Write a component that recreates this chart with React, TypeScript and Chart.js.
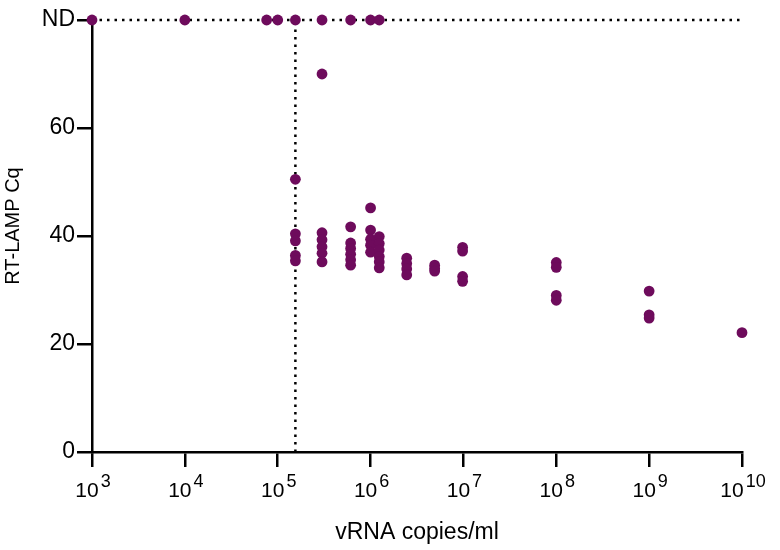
import React, { useEffect, useRef } from "react";
import { Chart, registerables } from "chart.js";

Chart.register(...registerables);

// ---- data ----
const ND_CQ = 80; // "ND" (not detected) plotted at the top of the axis
const ndCopies = [1e3, 1e4, 7.6e4, 1e5, 1.55e5, 3e5, 6.1e5, 1e6, 1.24e6];

const detectedCopies = [1.55e5, 3e5, 6.1e5, 1e6, 1.24e6, 2.45e6, 4.9e6, 9.8e6, 1e8, 1e9, 1e10];
const cqAt155e3 = [50.5, 40.4, 39.1, 36.4, 35.4];
const cqAt3e5 = [70, 40.6, 39.3, 38.0, 36.8, 35.2];
const cqAt61e4 = [41.7, 38.7, 37.7, 36.6, 35.6, 34.6];
const cqAt1e6 = [45.2, 41.1, 39.4, 38.3, 37.0];
const cqAt124e4 = [39.9, 38.6, 37.4, 36.2, 35.2, 34.1];
const cqAt245e4 = [35.9, 34.9, 33.9, 32.8];
const cqAt49e5 = [34.6, 34.0, 33.5];
const cqAt98e5 = [37.9, 37.2, 32.5, 31.6];
const cqAt1e8 = [35.1, 34.2, 29.0, 28.1];
const cqAt1e9 = [29.8, 25.4, 24.8];
const cqAt1e10 = [22.1];
const cqGroups = [cqAt155e3, cqAt3e5, cqAt61e4, cqAt1e6, cqAt124e4, cqAt245e4, cqAt49e5, cqAt98e5, cqAt1e8, cqAt1e9, cqAt1e10];

const lodCopies = 1.55e5; // vertical dotted detection-limit line
const xExponents = [3, 4, 5, 6, 7, 8, 9, 10];
const yTickValues = [0, 20, 40, 60, 80];
const yTickLabels = ["0", "20", "40", "60", "ND"];

const X_TITLE = "vRNA copies/ml";
const Y_TITLE = "RT-LAMP Cq";

const FONT = '"Liberation Sans", Arial, Helvetica, sans-serif';
const POINT_COLOR = "#6e0b5c";

export default function App() {
  const canvasRef = useRef<HTMLCanvasElement | null>(null);

  useEffect(() => {
    document.body.style.margin = "0";
    const canvas = canvasRef.current;
    if (!canvas) return;

    const points: { x: number; y: number }[] = [];
    ndCopies.forEach((c) => points.push({ x: c, y: ND_CQ }));
    detectedCopies.forEach((c, i) => cqGroups[i].forEach((v) => points.push({ x: c, y: v })));

    const labelsPlugin = {
      id: "customLabels",
      afterDraw(chart: any) {
        const ctx = chart.ctx;
        const xs = chart.scales.x;
        const ys = chart.scales.y;
        ctx.save();
        ctx.fillStyle = "#000";
        ctx.textBaseline = "alphabetic";
        ctx.textAlign = "left";
        // x tick labels as 10 with superscript exponent
        for (const e of xExponents) {
          const px = xs.getPixelForValue(Math.pow(10, e));
          ctx.font = `21px ${FONT}`;
          const w1 = ctx.measureText("10").width;
          ctx.font = `18px ${FONT}`;
          const w2 = ctx.measureText(String(e)).width;
          const gap = 2;
          const total = w1 + gap + w2;
          const start = px - total / 2 + 1;
          ctx.font = `21px ${FONT}`;
          ctx.fillText("10", start, 497);
          ctx.font = `18px ${FONT}`;
          ctx.fillText(String(e), start + w1 + gap, 487);
        }
        // y axis title
        const cy = (ys.top + ys.bottom) / 2 - 10;
        ctx.translate(19, cy);
        ctx.rotate(-Math.PI / 2);
        ctx.textAlign = "center";
        ctx.font = `20px ${FONT}`;
        ctx.fillText(Y_TITLE, 0, 0);
        ctx.restore();
      },
    };

    const chart = new Chart(canvas, {
      type: "scatter",
      data: {
        datasets: [
          {
            label: "samples",
            data: points,
            pointRadius: 5.4,
            pointHoverRadius: 5.4,
            pointBackgroundColor: POINT_COLOR,
            pointBorderColor: POINT_COLOR,
            pointBorderWidth: 0,
            showLine: false,
            clip: false as any,
            order: 0,
          },
          {
            label: "ND line",
            data: [
              { x: Math.pow(10, xExponents[0]), y: ND_CQ },
              { x: Math.pow(10, xExponents[xExponents.length - 1]), y: ND_CQ },
            ],
            showLine: true,
            pointRadius: 0,
            borderColor: "#000",
            borderWidth: 2.5,
            borderDash: [2.5, 5],
            clip: false as any,
            order: 1,
          },
          {
            label: "LoD line",
            data: [
              { x: lodCopies, y: 0 },
              { x: lodCopies, y: ND_CQ },
            ],
            showLine: true,
            pointRadius: 0,
            borderColor: "#000",
            borderWidth: 2.5,
            borderDash: [2.5, 5],
            clip: false as any,
            order: 2,
          },
        ],
      },
      options: {
        responsive: false,
        animation: false,
        devicePixelRatio: 1,
        layout: { padding: { top: 20, right: 38, left: 0, bottom: 0 } },
        plugins: {
          legend: { display: false },
          tooltip: { enabled: false },
        },
        scales: {
          x: {
            type: "logarithmic",
            min: Math.pow(10, xExponents[0]),
            max: Math.pow(10, xExponents[xExponents.length - 1]),
            afterBuildTicks: (scale: any) => {
              scale.ticks = xExponents.map((e) => ({ value: Math.pow(10, e), major: true }));
            },
            afterFit: (scale: any) => {
              scale.height = 98;
            },
            ticks: { display: false },
            grid: {
              display: true,
              drawOnChartArea: false,
              drawTicks: true,
              tickLength: 15,
              tickWidth: 2.5,
              tickColor: "#000",
              color: "#000",
              lineWidth: 2.5,
            },
            border: { display: true, color: "#000", width: 2.5 },
            title: {
              display: true,
              text: X_TITLE,
              color: "#000",
              font: { family: FONT, size: 23 },
              padding: { top: 0, bottom: 4 },
            },
          },
          y: {
            type: "linear",
            min: yTickValues[0],
            max: yTickValues[yTickValues.length - 1],
            afterBuildTicks: (scale: any) => {
              scale.ticks = yTickValues.map((v) => ({ value: v }));
            },
            afterFit: (scale: any) => {
              scale.width = 92;
            },
            ticks: {
              color: "#000",
              font: { family: FONT, size: 23 },
              padding: 2,
              callback: (v: any) => {
                const i = yTickValues.indexOf(Number(v));
                return i >= 0 ? yTickLabels[i] : "";
              },
            },
            grid: {
              display: true,
              drawOnChartArea: false,
              drawTicks: true,
              tickLength: 15,
              tickWidth: 2.5,
              tickColor: "#000",
              color: "#000",
              lineWidth: 2.5,
            },
            border: { display: true, color: "#000", width: 2.5 },
            title: { display: false },
          },
        },
      },
      plugins: [labelsPlugin],
    } as any);

    return () => chart.destroy();
  }, []);

  return (
    <div style={{ width: 780, height: 550, background: "#fff" }}>
      <canvas ref={canvasRef} width={780} height={550} style={{ display: "block" }} />
    </div>
  );
}
